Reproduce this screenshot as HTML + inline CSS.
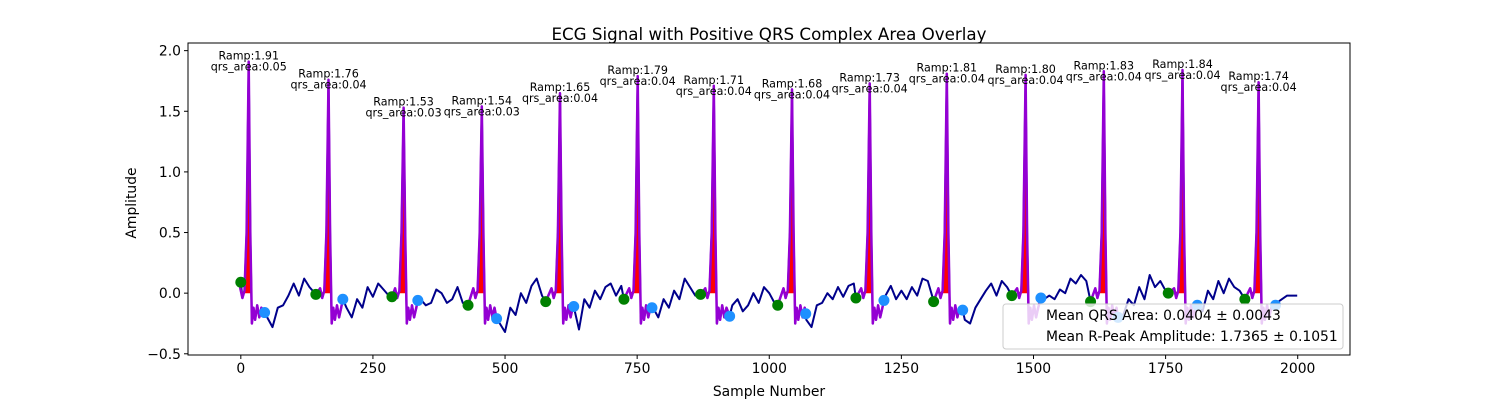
<!DOCTYPE html>
<html><head><meta charset="utf-8"><style>
body{margin:0;background:#fff;}
svg text{font-family:"DejaVu Sans","Liberation Sans",sans-serif;}
</style></head><body>
<svg id="chart" width="1500" height="400" xmlns="http://www.w3.org/2000/svg">
<rect x="0" y="0" width="1500" height="400" fill="#fff"/>
<text x="769" y="40" font-size="16.7" text-anchor="middle">ECG Signal with Positive QRS Complex Area Overlay</text>
<text x="769" y="396" font-size="13.9" text-anchor="middle">Sample Number</text>
<text x="0" y="0" font-size="13.9" text-anchor="middle" transform="translate(136,203) rotate(-90)">Amplitude</text>
<g id="plot"></g>
</svg>
<script>
const baseValues = [
0,0.02,0,-0.15,-0.18,-0.2,-0.28,-0.12,-0.1,-0.02,
0.08,-0.02,0.12,0.05,0.0,0.03,0,-0.1,-0.12,-0.05,
-0.12,-0.2,-0.05,-0.12,0.05,-0.03,0.08,0.03,-0.02,-0.05,
0,-0.1,-0.12,-0.22,-0.05,-0.1,-0.08,0.03,0.0,-0.08,
-0.05,0.05,-0.08,-0.02,-0.1,-0.12,0,-0.2,-0.2,-0.25,
-0.32,-0.12,-0.18,0.0,-0.08,0.06,0.12,-0.02,-0.05,0,
0,-0.12,-0.1,-0.18,-0.3,-0.05,-0.12,0.02,-0.05,0.05,
0.08,-0.02,0.06,0.02,-0.05,0,-0.15,-0.1,-0.12,-0.2,
-0.05,-0.12,0.02,-0.05,0.12,0.05,-0.02,0.08,0.02,0,
-0.2,-0.15,-0.22,-0.1,-0.05,-0.15,-0.1,0.0,-0.08,0.05,
0.0,-0.08,-0.1,-0.05,0,-0.15,-0.15,-0.22,-0.28,-0.1,
-0.08,0.0,-0.05,0.05,-0.03,0.06,0.08,-0.02,-0.02,0,
-0.1,-0.05,-0.02,0.06,-0.05,0.02,-0.05,0.05,-0.02,0.12,
0.1,-0.05,-0.08,-0.05,0,-0.15,-0.15,-0.22,-0.25,-0.12,
-0.05,0.02,0.08,-0.02,0.1,0.05,-0.02,0.0,-0.02,0,
-0.05,0.0,-0.05,-0.02,-0.05,0.03,0.0,0.12,0.08,0.15,
0.1,0.05,0,-0.2,-0.2,-0.15,-0.25,-0.18,-0.05,-0.1,
0.05,-0.05,0.15,0.05,0.1,0.02,0.08,0,0,0,
-0.1,-0.08,-0.15,0.02,-0.05,0.1,0.0,0.12,0.05,0.02,
-0.02,-0.05,0,-0.1,-0.05,-0.1,-0.08,-0.05,-0.02,-0.02];
const baseStep = 10;
const peakSamples = [15,166,308,456,604,751,895,1043,1190,1336,1485,1633,1782,1926];
const peakAmps = [1.91,1.76,1.53,1.54,1.65,1.79,1.71,1.68,1.73,1.81,1.80,1.83,1.84,1.74];
const qrsAreas = ["0.05","0.04","0.03","0.03","0.04","0.04","0.04","0.04","0.04","0.04","0.04","0.04","0.04","0.04"];
const onsetSamples = [0,142,286,430,577,725,870,1016,1164,1311,1459,1608,1755,1900];
const onsetValues = [0.09,-0.01,-0.03,-0.1,-0.07,-0.05,-0.01,-0.1,-0.04,-0.07,-0.02,-0.07,0.0,-0.05];
const offsetSamples = [45,193,335,484,630,778,925,1069,1217,1366,1514,1660,1810,1958];
const offsetValues = [-0.16,-0.05,-0.06,-0.21,-0.11,-0.12,-0.19,-0.17,-0.06,-0.14,-0.04,-0.2,-0.1,-0.1];
const xTicks = [0,250,500,750,1000,1250,1500,1750,2000];
const yTicks = [-0.5,0.0,0.5,1.0,1.5,2.0];

const L=188,R=1350,T=43,B=355, xMin=-99.95,xMax=2098.95,yMin=-0.51,yMax=2.063;
const sx=v=>L+(v-xMin)/(xMax-xMin)*(R-L);
const sy=v=>B-(v-yMin)/(yMax-yMin)*(B-T);
const NS="http://www.w3.org/2000/svg";
const plot=document.getElementById('plot');
function mk(tag,attrs,parent){const e=document.createElementNS(NS,tag);for(const k in attrs)e.setAttribute(k,attrs[k]);(parent||plot).appendChild(e);return e;}

function beatPts(i){const p=peakSamples[i],a=peakAmps[i];
 return [[onsetSamples[i],onsetValues[i]],[p-16,0.04],[p-12,-0.04],[p-8,0.02],[p-4,0.5],[p,a],[p+3,0.5],[p+6,-0.25],[p+9,-0.12],[p+12,-0.22],[p+16,-0.1],[p+20,-0.2],[p+24,-0.12],[offsetSamples[i],offsetValues[i]]];}
let pts=[];
for(let j=0;j<baseValues.length;j++){const s=j*baseStep;
 if(!onsetSamples.some((o,i)=>s>=o&&s<=offsetSamples[i]))pts.push([s,baseValues[j]]);}
pts.push([1999,baseValues[baseValues.length-1]]);
for(let i=0;i<peakSamples.length;i++)pts=pts.concat(beatPts(i));
pts.sort((a,b)=>a[0]-b[0]);
const toPath=arr=>arr.map((q,k)=>(k?'L':'M')+sx(q[0]).toFixed(1)+','+sy(q[1]).toFixed(1)).join('');
const defs=mk('clipPath',{id:'clip'});mk('rect',{x:L,y:T,width:R-L,height:B-T},defs);
const g=mk('g',{'clip-path':'url(#clip)'});
const sig=mk('path',{d:toPath(pts),fill:'none',stroke:'#00008b','stroke-width':2,'stroke-linejoin':'round'},g);


for(let i=0;i<peakSamples.length;i++){
 const p=peakSamples[i],a=peakAmps[i];
 const area=mk('path',{d:toPath([[onsetSamples[i]+ (i===0?0:10),0],[p-8,0.02],[p-4,0.5],[p,a],[p+3,0.5],[p+4,0]])+'Z',fill:'red'},g);
 
 
 const seg=mk('path',{d:toPath(beatPts(i)),fill:'none',stroke:'#9400d3','stroke-width':2.5,'stroke-linejoin':'round'},g);
 
 
 const on=mk('circle',{cx:sx(onsetSamples[i]),cy:sy(onsetValues[i]),r:5.5,fill:'green'},g);
 
 
 const off=mk('circle',{cx:sx(offsetSamples[i]),cy:sy(offsetValues[i]),r:5.5,fill:'#1e90ff'},g);
 
 
 const t1=mk('text',{x:sx(p),y:sy(a)-2,'font-size':11.1,'text-anchor':'middle'});t1.textContent='Ramp:'+a.toFixed(2);
 
 
 const t2=mk('text',{x:sx(p),y:sy(a)+9,'font-size':11.1,'text-anchor':'middle'});t2.textContent='qrs_area:'+qrsAreas[i];
 
 
}
mk('rect',{x:L,y:T,width:R-L,height:B-T,fill:'none',stroke:'#000','stroke-width':1});
xTicks.forEach(v=>{const x=sx(v);mk('line',{x1:x,x2:x,y1:B,y2:B+4,stroke:'#000'});
 const t=mk('text',{x:x,y:B+18,'font-size':13.9,'text-anchor':'middle'});t.textContent=v;
 
 });
yTicks.forEach(v=>{const y=sy(v);mk('line',{x1:L-4,x2:L,y1:y,y2:y,stroke:'#000'});
 const t=mk('text',{x:L-7,y:y+5,'font-size':13.9,'text-anchor':'end'});t.textContent=(v<0?'\u2212':'')+Math.abs(v).toFixed(1);
 
 });
const lg=mk('g',{});


mk('rect',{x:1003,y:304,width:340,height:45,rx:3,fill:'#fff','fill-opacity':0.8,stroke:'#ccc'},lg);
const l1=mk('text',{x:1046,y:320,'font-size':13.9},lg);l1.textContent='Mean QRS Area: 0.0404 \u00b1 0.0043';


const l2=mk('text',{x:1046,y:341,'font-size':13.9},lg);l2.textContent='Mean R-Peak Amplitude: 1.7365 \u00b1 0.1051';


</script>
</body></html>
